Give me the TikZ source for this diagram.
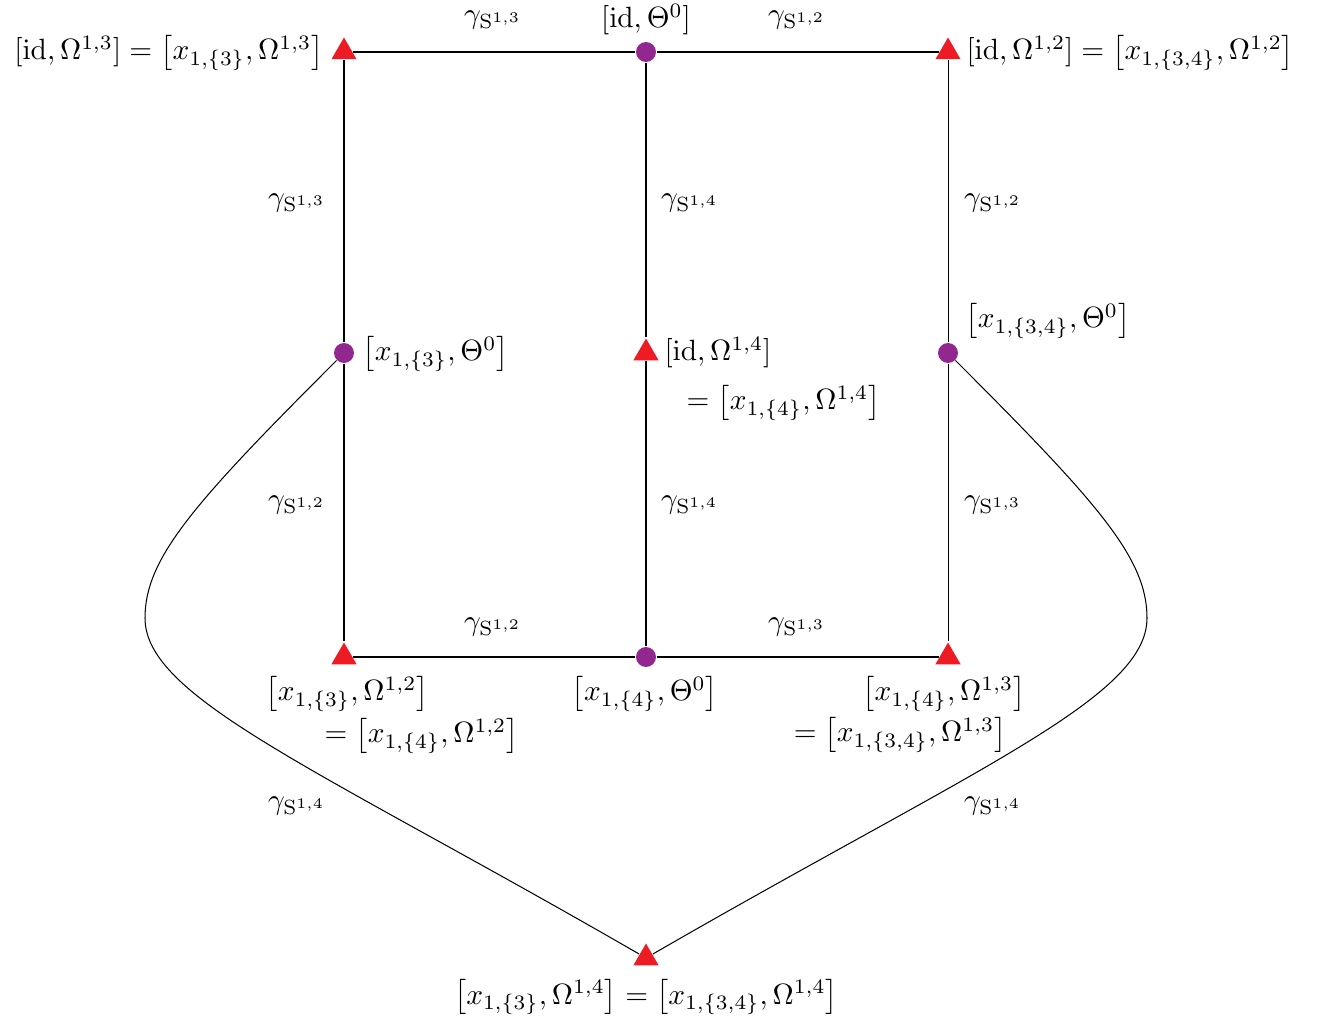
\documentclass[tikz,border=0pt]{standalone}
\usepackage{amsmath}
\usetikzlibrary{shapes.geometric}
\definecolor{tred}{RGB}{237,28,36}
\definecolor{tpurple}{RGB}{146,39,143}
\begin{document}
\begin{tikzpicture}[x=0.341pt,y=-0.341pt,
  tri/.style={regular polygon,regular polygon sides=3,fill=tred,draw=none,inner sep=0pt,minimum size=9.9pt},
  dot/.style={circle,fill=tpurple,draw=none,inner sep=0pt,minimum size=6.8pt},
  lab/.style={inner sep=0pt},
  elab/.style={inner sep=0pt},
  conn/.style={draw=black,line width=0.35pt}]
\useasboundingbox (0,0) rectangle (1327,1021);
% markers
\node[tri] (TL) at (344,52) {};
\node[dot] (TM) at (646,52) {};
\node[tri] (TR) at (948,52) {};
\node[dot] (ML) at (344,353) {};
\node[tri] (MM) at (646,353) {};
\node[dot] (MR) at (948,353) {};
\node[tri] (BL) at (344,657) {};
\node[dot] (BM) at (646,657) {};
\node[tri] (BR) at (948,657) {};
\node[tri] (B) at (646,958) {};
\coordinate (LC) at (145,618);
\coordinate (RC) at (1147,618);
% connectors
\draw[conn] (TL) -- (TM);
\draw[conn] (TM) -- (TR);
\draw[conn] (TL) -- (ML);
\draw[conn] (ML) -- (BL);
\draw[conn] (TM) -- (MM);
\draw[conn] (MM) -- (BM);
\draw[conn] (TR) -- (MR);
\draw[conn] (MR) -- (BR);
\draw[conn] (BL) -- (BM);
\draw[conn] (BM) -- (BR);
\draw[conn] (ML) .. controls +(-150,150) and +(0,-60) .. (LC) .. controls +(0,80) and +(-329,-190) .. (B);
\draw[conn] (MR) .. controls +(150,150) and +(0,-60) .. (RC) .. controls +(0,80) and +(329,-190) .. (B);
% edge labels
\node[elab] (e1) at (493,20) {$\gamma_{\mathrm{S}^{1,3}}$};
\node[elab] (e2) at (797,20) {$\gamma_{\mathrm{S}^{1,2}}$};
\node[elab] (e3) at (297,203) {$\gamma_{\mathrm{S}^{1,3}}$};
\node[elab] (e4) at (690,203) {$\gamma_{\mathrm{S}^{1,4}}$};
\node[elab] (e5) at (993,203) {$\gamma_{\mathrm{S}^{1,2}}$};
\node[elab] (e6) at (297,505) {$\gamma_{\mathrm{S}^{1,2}}$};
\node[elab] (e7) at (690,505) {$\gamma_{\mathrm{S}^{1,4}}$};
\node[elab] (e8) at (993,505) {$\gamma_{\mathrm{S}^{1,3}}$};
\node[elab] (e9) at (493,627) {$\gamma_{\mathrm{S}^{1,2}}$};
\node[elab] (e10) at (797,627) {$\gamma_{\mathrm{S}^{1,3}}$};
\node[elab] (e11) at (297,806) {$\gamma_{\mathrm{S}^{1,4}}$};
\node[elab] (e12) at (993,806) {$\gamma_{\mathrm{S}^{1,4}}$};
% node labels
\node[lab,anchor=base east] (lTL) at (324,60) {$[\mathrm{id},\Omega^{1,3}] = \bigl[x_{1,\{3\}},\Omega^{1,3}\bigr]$};
\node[lab,anchor=base] (lTM) at (646,28) {$[\mathrm{id},\Theta^0]$};
\node[lab,anchor=base west] (lTR) at (966,60) {$[\mathrm{id},\Omega^{1,2}] = \bigl[x_{1,\{3,4\}},\Omega^{1,2}\bigr]$};
\node[lab,anchor=base west] (lML) at (362,361) {$\bigl[x_{1,\{3\}},\Theta^0\bigr]$};
\node[lab,anchor=base west] (lMMa) at (664,361) {$[\mathrm{id},\Omega^{1,4}]$};
\node[lab,anchor=base west] (lMMb) at (686,410) {$=\bigl[x_{1,\{4\}},\Omega^{1,4}\bigr]$};
\node[lab,anchor=base west] (lMR) at (965,328) {$\bigl[x_{1,\{3,4\}},\Theta^0\bigr]$};
\node[lab,anchor=base west] (lBLa) at (265,701) {$\bigl[x_{1,\{3\}},\Omega^{1,2}\bigr]$};
\node[lab,anchor=base west] (lBLb) at (324,743) {$=\bigl[x_{1,\{4\}},\Omega^{1,2}\bigr]$};
\node[lab,anchor=base] (lBM) at (645,701) {$\bigl[x_{1,\{4\}},\Theta^0\bigr]$};
\node[lab,anchor=base east] (lBRa) at (1026,701) {$\bigl[x_{1,\{4\}},\Omega^{1,3}\bigr]$};
\node[lab,anchor=base east] (lBRb) at (1007,742) {$=\bigl[x_{1,\{3,4\}},\Omega^{1,3}\bigr]$};
\node[lab,anchor=base] (lB) at (646,1004) {$\bigl[x_{1,\{3\}},\Omega^{1,4}\bigr]=\bigl[x_{1,\{3,4\}},\Omega^{1,4}\bigr]$};
\end{tikzpicture}
\end{document}
